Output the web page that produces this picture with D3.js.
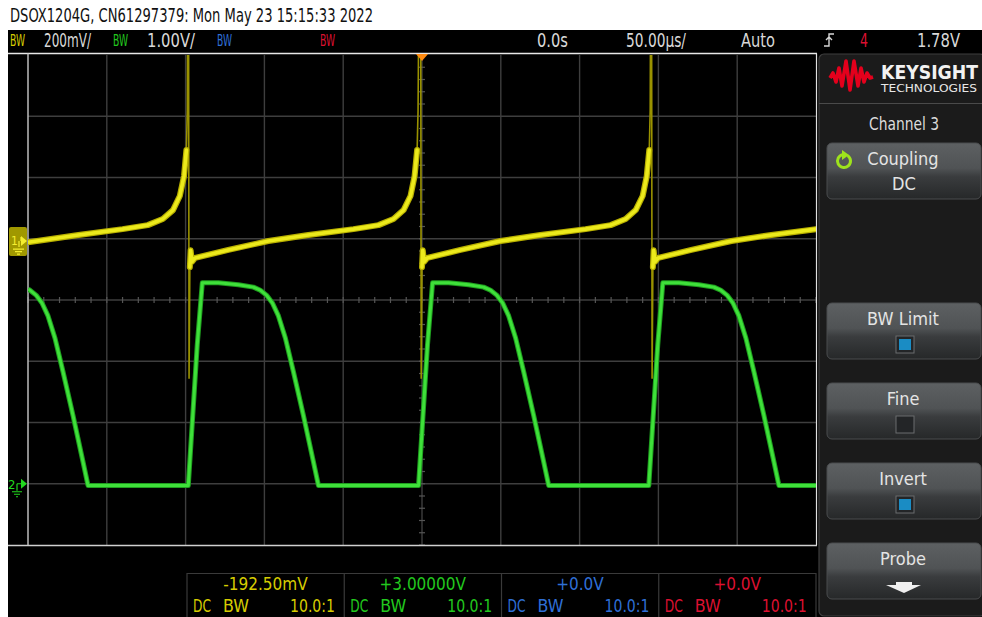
<!DOCTYPE html>
<html>
<head>
<meta charset="utf-8">
<script src="https://cdn.jsdelivr.net/npm/d3@7"></script>
<style>
  html, body { margin: 0; padding: 0; background: #fff; }
  svg { display: block; }
  text { font-family: "DejaVu Sans Condensed", "DejaVu Sans", sans-serif; font-stretch: condensed; }
</style>
</head>
<body>
<svg id="scope" width="982" height="617"></svg>
<script>
// Screen title
const TITLE = "DSOX1204G, CN61297379: Mon May 23 15:15:33 2022";

// Channel 1 (yellow) trace: [time in µs, volts]
const ch1Trace = [
  [-250, -0.004], [-218, 0.02], [-190, 0.039], [-174, 0.052], [-164.5, 0.072],
  [-158, 0.101], [-153.7, 0.147], [-151, 0.212], [-149.5, 0.297], [-148.9, 0.427],
  [-148.3, 1.5], [-147.8, -0.45], [-147.3, -0.085], [-146.8, -0.03], [-146, -0.068],
  [-143.9, -0.055], [-122.9, -0.029], [-97.5, 0.0], [-72.1, 0.02], [-43.5, 0.039],
  [-27.6, 0.052], [-18.1, 0.072], [-11.7, 0.101], [-7.3, 0.147], [-4.7, 0.212],
  [-3.1, 0.297], [-2.5, 0.427], [-1.0, 1.5], [-0.5, -0.45], [0.0, -0.085],
  [0.5, -0.03], [1.3, -0.068], [3.4, -0.055], [24.4, -0.029], [49.8, 0.0],
  [75.2, 0.02], [103.8, 0.039], [119.7, 0.052], [129.2, 0.072], [135.6, 0.101],
  [140.0, 0.147], [142.6, 0.212], [144.2, 0.297], [144.8, 0.427], [145.5, 1.5],
  [146.0, -0.45], [146.5, -0.085], [147.0, -0.03], [147.8, -0.068], [149.9, -0.055],
  [170.9, -0.029], [196.3, 0.0], [221.7, 0.02], [250, 0.039]
];

// Channel 2 (green) trace: [time in µs, volts]
const ch2Trace = [
  [-250, 3.18], [-248.8, 3.16], [-244.9, 3.08], [-241.1, 2.95], [-237.3, 2.74],
  [-232.9, 2.38], [-227.8, 1.83], [-221.4, 1.11], [-215.1, 0.36], [-211.9, -0.03],
  [-148.3, -0.03], [-142.6, 2.27], [-139.4, 3.28], [-129.2, 3.28], [-116.5, 3.25],
  [-107.0, 3.21], [-102.6, 3.16], [-98.7, 3.08], [-94.9, 2.95], [-91.1, 2.74],
  [-86.7, 2.38], [-81.6, 1.83], [-75.2, 1.11], [-68.9, 0.36], [-65.7, -0.03],
  [-2.2, -0.03], [3.5, 2.27], [6.7, 3.28], [16.9, 3.28], [29.6, 3.25],
  [39.1, 3.21], [43.5, 3.16], [47.4, 3.08], [51.2, 2.95], [55.0, 2.74],
  [59.4, 2.38], [64.5, 1.83], [70.9, 1.11], [77.2, 0.36], [80.4, -0.03],
  [143.9, -0.03], [149.6, 2.27], [152.8, 3.28], [163.0, 3.28], [175.7, 3.25],
  [185.2, 3.21], [189.6, 3.16], [193.5, 3.08], [197.3, 2.95], [201.1, 2.74],
  [205.5, 2.38], [210.6, 1.83], [217.0, 1.11], [223.3, 0.36], [226.5, -0.03],
  [250, -0.03]
];

// Scope settings
const timePerDiv = 50;          // µs/div
const ch1VoltsPerDiv = 0.2;
const ch1Offset = -0.1925;
const ch2VoltsPerDiv = 1.0;
const ch2Offset = 3.0;

// Top status bar labels
const topLabels = [
  { text: "BW", x: 10, w: 15, color: "#d6cc00", small: true },
  { text: "200mV/", x: 44, w: 47, color: "#d8d8d8" },
  { text: "BW", x: 113, w: 15, color: "#22c81e", small: true },
  { text: "1.00V/", x: 147, w: 48, color: "#d8d8d8" },
  { text: "BW", x: 217, w: 15, color: "#2f6fd6", small: true },
  { text: "BW", x: 320, w: 15, color: "#dc1030", small: true },
  { text: "0.0s", x: 537, w: 31, color: "#d8d8d8" },
  { text: "50.00µs/", x: 626, w: 60, color: "#d8d8d8" },
  { text: "Auto", x: 741, w: 34, color: "#d8d8d8" },
  { text: "4", x: 860, w: 8, color: "#dc1030" },
  { text: "1.78V", x: 917, w: 43, color: "#d8d8d8" }
];

// Bottom channel info boxes
const channelColors = ["#d6cc00", "#22c81e", "#2f6fd6", "#dc1030"];
const channelOffsets = ["-192.50mV", "+3.00000V", "+0.0V", "+0.0V"];
const channelCoupling = ["DC", "DC", "DC", "DC"];
const channelProbe = ["10.0:1", "10.0:1", "10.0:1", "10.0:1"];

// Softkey menu
const menuTitle = "Channel 3";
const softkeys = [
  { label: "Coupling", kind: "value", value: "DC" },
  { label: "BW Limit", kind: "check", on: true },
  { label: "Fine", kind: "check", on: false },
  { label: "Invert", kind: "check", on: true },
  { label: "Probe", kind: "arrow" }
];

const svg = d3.select("#scope");

// Background: white frame, black screen
svg.append("rect").attr("width", 982).attr("height", 617).attr("fill", "#fff");
svg.append("rect").attr("x", 8).attr("y", 30).attr("width", 974).attr("height", 587).attr("fill", "#000");

// Title
svg.append("text")
  .attr("x", 10).attr("y", 22)
  .attr("font-size", 19)
  .attr("fill", "#111")
  .attr("textLength", 363)
  .attr("lengthAdjust", "spacingAndGlyphs")
  .text(TITLE);

// Grid geometry
const gx0 = 28, gx1 = 816, gy0 = 55, gy1 = 545;

const x = d3.scaleLinear().domain([-5 * timePerDiv, 5 * timePerDiv]).range([gx0, gx1]);
const y1 = d3.scaleLinear()
  .domain([ch1Offset - 4 * ch1VoltsPerDiv, ch1Offset + 4 * ch1VoltsPerDiv])
  .range([gy1, gy0]);
const y2 = d3.scaleLinear()
  .domain([ch2Offset - 4 * ch2VoltsPerDiv, ch2Offset + 4 * ch2VoltsPerDiv])
  .range([gy1, gy0]);

const grid = svg.append("g");

// Vertical grid lines
grid.selectAll(".vline")
  .data(d3.range(-4, 5).map((d) => d * timePerDiv))
  .enter()
  .append("line")
  .attr("x1", (d) => x(d)).attr("x2", (d) => x(d))
  .attr("y1", gy0).attr("y2", gy1)
  .attr("stroke", "#3e3e3e").attr("stroke-width", 1.4);

// Horizontal grid lines
grid.selectAll(".hline")
  .data(d3.range(-3, 4).map((d) => ch2Offset + d * ch2VoltsPerDiv))
  .enter()
  .append("line")
  .attr("x1", gx0).attr("x2", gx1)
  .attr("y1", (d) => y2(d)).attr("y2", (d) => y2(d))
  .attr("stroke", "#3e3e3e").attr("stroke-width", 1.4);

// Minor ticks on the centre axes
const yc = y2(ch2Offset);
grid.selectAll(".htick")
  .data(d3.range(-25, 26).map((d) => d * timePerDiv / 5))
  .enter()
  .append("line")
  .attr("x1", (d) => x(d)).attr("x2", (d) => x(d))
  .attr("y1", yc - 3).attr("y2", yc + 3)
  .attr("stroke", "#555").attr("stroke-width", 1.2);

grid.selectAll(".vtick")
  .data(d3.range(-20, 21).map((d) => ch2Offset + d * ch2VoltsPerDiv / 5))
  .enter()
  .append("line")
  .attr("x1", x(0) - 3).attr("x2", x(0) + 3)
  .attr("y1", (d) => y2(d)).attr("y2", (d) => y2(d))
  .attr("stroke", "#555").attr("stroke-width", 1.2);

// Grid border
svg.append("line").attr("x1", 8).attr("x2", gx1 + 1).attr("y1", 53.5).attr("y2", 53.5)
  .attr("stroke", "#e8e8e8").attr("stroke-width", 1.5);
svg.append("line").attr("x1", 8).attr("x2", gx1 + 1).attr("y1", gy1 + 0.5).attr("y2", gy1 + 0.5)
  .attr("stroke", "#d0d0d0").attr("stroke-width", 1.5);
svg.append("line").attr("x1", gx0).attr("x2", gx0).attr("y1", 53.5).attr("y2", gy1)
  .attr("stroke", "#bdbdbd").attr("stroke-width", 1.5);
svg.append("line").attr("x1", gx1 + 0.5).attr("x2", gx1 + 0.5).attr("y1", 53.5).attr("y2", gy1)
  .attr("stroke", "#e0e0e0").attr("stroke-width", 1.2);

// Clip for traces
svg.append("defs").append("clipPath").attr("id", "screen-clip")
  .append("rect").attr("x", gx0).attr("y", gy0).attr("width", gx1 - gx0).attr("height", gy1 - gy0);

const traces = svg.append("g").attr("clip-path", "url(#screen-clip)");

// Channel 2 trace
const line2 = d3.line().x((d) => x(d[0])).y((d) => y2(d[1]));
traces.append("path")
  .datum(ch2Trace)
  .attr("d", line2)
  .attr("fill", "none")
  .attr("stroke", "#1f9e1f")
  .attr("stroke-width", 5)
  .attr("stroke-linejoin", "round");
traces.append("path")
  .datum(ch2Trace)
  .attr("d", line2)
  .attr("fill", "none")
  .attr("stroke", "#3fe03a")
  .attr("stroke-width", 3)
  .attr("stroke-linejoin", "round");

// Channel 1 trace: thin dim line for fast edges, thick body where slow
const line1 = d3.line().x((d) => x(d[0])).y((d) => y1(d[1]));
traces.append("path")
  .datum(ch1Trace)
  .attr("d", line1)
  .attr("fill", "none")
  .attr("stroke", "#9a9200")
  .attr("stroke-width", 1.6);
const line1Body = d3.line()
  .defined((d) => d[1] < 0.3 && d[1] > -0.2)
  .x((d) => x(d[0])).y((d) => y1(d[1]));
traces.append("path")
  .datum(ch1Trace)
  .attr("d", line1Body)
  .attr("fill", "none")
  .attr("stroke", "#b8b000")
  .attr("stroke-width", 6)
  .attr("stroke-linecap", "round")
  .attr("stroke-linejoin", "round");
traces.append("path")
  .datum(ch1Trace)
  .attr("d", line1Body)
  .attr("fill", "none")
  .attr("stroke", "#ecea1c")
  .attr("stroke-width", 3.6)
  .attr("stroke-linecap", "round")
  .attr("stroke-linejoin", "round");

// Trigger position marker
svg.append("path")
  .attr("d", `M${x(0) - 6},54 L${x(0) + 6},54 L${x(0)},61 Z`)
  .attr("fill", "#ff8a10");

// Channel 1 ground marker
const g1 = y1(0);
const m1 = svg.append("g");
m1.append("rect").attr("x", 9).attr("y", g1 - 14).attr("width", 18).attr("height", 29)
  .attr("rx", 2).attr("fill", "#a09800");
m1.append("text").attr("x", 11).attr("y", g1 + 4).attr("font-size", 12).attr("fill", "#f4ee30").text("1");
m1.append("path").attr("d", `M19,${g1} L19,${g1 + 6} M21,${g1} L21,${g1 - 4}`)
  .attr("stroke", "#f4ee30").attr("stroke-width", 1.2);
m1.append("path").attr("d", `M21,${g1 - 5} L27,${g1} L21,${g1 + 5} Z`).attr("fill", "#f4ee30");
m1.append("path").attr("d", `M13,${g1 + 8} L24,${g1 + 8} M15,${g1 + 10.5} L22,${g1 + 10.5} M17,${g1 + 13} L20,${g1 + 13}`)
  .attr("stroke", "#f4ee30").attr("stroke-width", 1.2);

// Channel 2 ground marker
const g2 = y2(0);
const m2 = svg.append("g");
m2.append("text").attr("x", 8).attr("y", g2 + 5).attr("font-size", 13).attr("fill", "#22d81e").text("2");
m2.append("path").attr("d", `M17,${g2} L17,${g2 + 7} M17,${g2} L21,${g2}`)
  .attr("stroke", "#22d81e").attr("stroke-width", 1.2);
m2.append("path").attr("d", `M21,${g2 - 5} L27,${g2} L21,${g2 + 5} Z`).attr("fill", "#22d81e");
m2.append("path").attr("d", `M12,${g2 + 8} L22,${g2 + 8} M14,${g2 + 10.5} L20,${g2 + 10.5} M16,${g2 + 13} L18,${g2 + 13}`)
  .attr("stroke", "#22d81e").attr("stroke-width", 1.2);

// Top status bar
svg.selectAll(".toplabel")
  .data(topLabels)
  .enter()
  .append("text")
  .attr("x", (d) => d.x)
  .attr("y", (d) => (d.small ? 45.5 : 47))
  .attr("font-size", (d) => (d.small ? 15 : 19))
  .attr("fill", (d) => d.color)
  .attr("textLength", (d) => d.w)
  .attr("lengthAdjust", "spacingAndGlyphs")
  .text((d) => d.text);

// Trigger slope icon
svg.append("path")
  .attr("d", "M824,46 L829,46 L829,34 L834,34 M826,40 L829,37 L832,40")
  .attr("fill", "none").attr("stroke", "#d8d8d8").attr("stroke-width", 1.4);

// Bottom channel info
const boxLeft = d3.scaleLinear().domain([0, 4]).range([187, 816]);
const info = svg.append("g");
info.append("line").attr("x1", 187).attr("x2", 816).attr("y1", 573.5).attr("y2", 573.5)
  .attr("stroke", "#3a3a3a").attr("stroke-width", 1.2);
info.selectAll(".sep")
  .data(d3.range(0, 5))
  .enter()
  .append("line")
  .attr("x1", (d) => boxLeft(d)).attr("x2", (d) => boxLeft(d))
  .attr("y1", 573).attr("y2", 617)
  .attr("stroke", "#3a3a3a").attr("stroke-width", 1.2);

const boxes = info.selectAll(".chbox")
  .data(channelColors)
  .enter()
  .append("g")
  .attr("transform", (d, i) => `translate(${boxLeft(i)},0)`);

boxes.append("text")
  .attr("x", 78.5).attr("y", 590)
  .attr("text-anchor", "middle")
  .attr("font-size", 17)
  .attr("fill", (d) => d)
  .text((d, i) => channelOffsets[i]);
boxes.append("text")
  .attr("x", 6).attr("y", 612)
  .attr("font-size", 17).attr("fill", (d) => d)
  .attr("textLength", 18).attr("lengthAdjust", "spacingAndGlyphs")
  .text((d, i) => channelCoupling[i]);
boxes.append("text")
  .attr("x", 36).attr("y", 612)
  .attr("font-size", 17).attr("fill", (d) => d)
  .attr("textLength", 26).attr("lengthAdjust", "spacingAndGlyphs")
  .text("BW");
boxes.append("text")
  .attr("x", 103).attr("y", 612)
  .attr("font-size", 17).attr("fill", (d) => d)
  .attr("textLength", 45).attr("lengthAdjust", "spacingAndGlyphs")
  .text((d, i) => channelProbe[i]);

// Soft-key panel
const panel = svg.append("g");
panel.append("rect")
  .attr("x", 819).attr("y", 54).attr("width", 166).attr("height", 562)
  .attr("rx", 5)
  .attr("fill", "#1b1b1b").attr("stroke", "#3e3e3e").attr("stroke-width", 1.2);

// Keysight logo
panel.append("path")
  .attr("d", "M830,78 L833,73 L836,82 L839,68 L842,86 L846,61 L850,90 L854,61 L858,86 L861,68 L864,82 L867,73 L870,78 L873,77")
  .attr("fill", "none").attr("stroke", "#e4001c").attr("stroke-width", 3.6).attr("stroke-linejoin", "round");
panel.append("text")
  .attr("x", 881).attr("y", 79)
  .attr("font-family", "'DejaVu Sans', sans-serif")
  .attr("font-weight", "bold").attr("font-size", 19)
  .attr("fill", "#f2f2f2")
  .attr("textLength", 97).attr("lengthAdjust", "spacingAndGlyphs")
  .text("KEYSIGHT");
panel.append("text")
  .attr("x", 881).attr("y", 92)
  .attr("font-family", "'DejaVu Sans', sans-serif")
  .attr("font-size", 10.5)
  .attr("fill", "#e8e8e8")
  .attr("textLength", 96).attr("lengthAdjust", "spacingAndGlyphs")
  .text("TECHNOLOGIES");
panel.append("line").attr("x1", 819).attr("x2", 982).attr("y1", 103.5).attr("y2", 103.5)
  .attr("stroke", "#4a4a4a").attr("stroke-width", 1.2);
panel.append("text")
  .attr("x", 904).attr("y", 130)
  .attr("text-anchor", "middle")
  .attr("font-size", 18).attr("fill", "#dcdcdc")
  .attr("textLength", 70).attr("lengthAdjust", "spacingAndGlyphs")
  .text(menuTitle);

const grad = svg.select("defs").append("linearGradient")
  .attr("id", "key-grad").attr("x1", 0).attr("y1", 0).attr("x2", 0).attr("y2", 1);
grad.append("stop").attr("offset", "0%").attr("stop-color", "#5d6062");
grad.append("stop").attr("offset", "45%").attr("stop-color", "#505355");
grad.append("stop").attr("offset", "60%").attr("stop-color", "#3a3c3e");
grad.append("stop").attr("offset", "100%").attr("stop-color", "#262829");

const keyTop = [143, 303, 383, 463, 543];
const keys = panel.selectAll(".key")
  .data(softkeys)
  .enter()
  .append("g")
  .attr("transform", (d, i) => `translate(827,${keyTop[i]})`);

keys.append("rect")
  .attr("width", 154).attr("height", 56).attr("rx", 5)
  .attr("fill", "url(#key-grad)")
  .attr("stroke", "#4a4c4e").attr("stroke-width", 1);

keys.append("text")
  .attr("x", 76)
  .attr("y", 22)
  .attr("text-anchor", "middle")
  .attr("font-size", 18).attr("fill", "#e4e4e4")
  .text((d) => d.label);

keys.filter((d) => d.kind === "value")
  .append("text")
  .attr("x", 77).attr("y", 47)
  .attr("text-anchor", "middle")
  .attr("font-size", 18).attr("fill", "#e4e4e4")
  .text((d) => d.value);

const checks = keys.filter((d) => d.kind === "check");
checks.append("rect")
  .attr("x", 69).attr("y", 33).attr("width", 18).attr("height", 17)
  .attr("fill", "#232527").attr("stroke", "#6a6c6e").attr("stroke-width", 1);
checks.filter((d) => d.on)
  .append("rect")
  .attr("x", 72).attr("y", 36).attr("width", 12).attr("height", 11)
  .attr("fill", "#1a8cc4");

keys.filter((d) => d.kind === "arrow")
  .append("path")
  .attr("d", "M69,39 L85,39 L85,42 L94,42 L77,50 L59,42 L69,42 Z")
  .attr("fill", "#f0f0f0");

// Coupling rotate icon
const icon = keys.filter((d) => d.kind === "value").append("g").attr("transform", "translate(17,18)");
icon.append("path")
  .attr("d", d3.arc()({ innerRadius: 5, outerRadius: 8, startAngle: 0.6, endAngle: 2 * Math.PI - 0.2 }))
  .attr("fill", "#9ee31c");
icon.append("path")
  .attr("d", "M-2,-11 L5,-6 L-2,-1 Z")
  .attr("fill", "#9ee31c");
</script>
</body>
</html>
